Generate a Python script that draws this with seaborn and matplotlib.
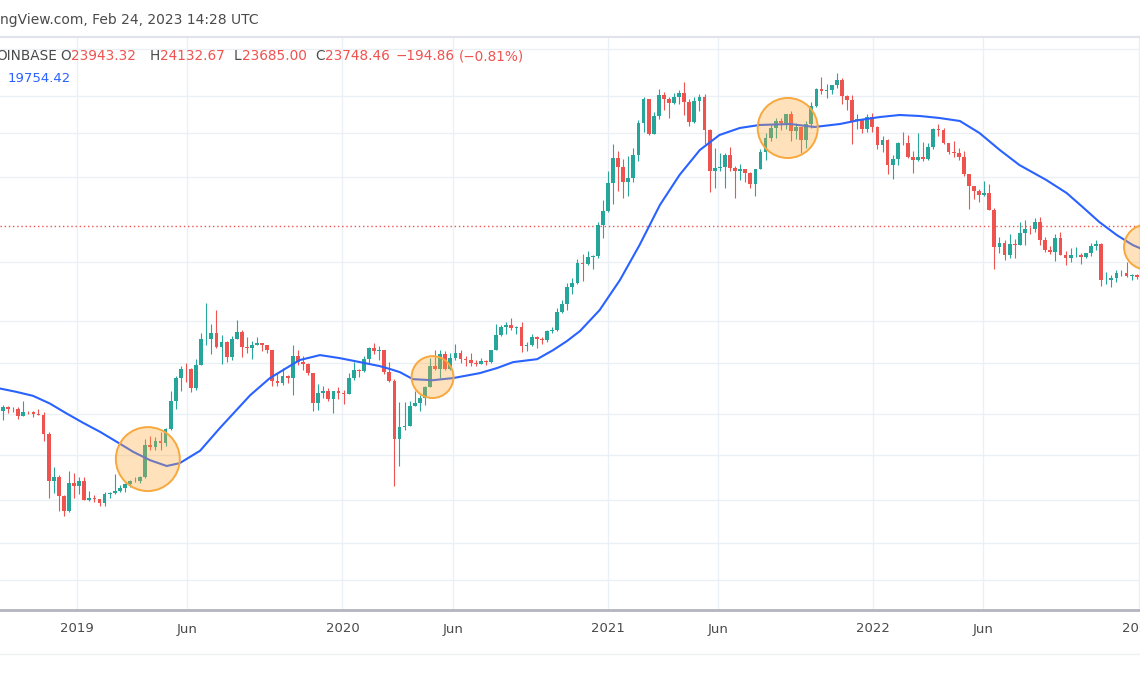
import matplotlib
matplotlib.use("Agg")
import matplotlib.dates as mdates
import matplotlib.pyplot as plt
from matplotlib.lines import Line2D
from matplotlib.ticker import NullLocator
import pandas as pd
import seaborn as sns

GREEN = "#26a69a"
RED = "#ef5350"
BLUE = "#2962ff"
TEXT = "#4a4a4a"
GRID = "#eaf0f6"

# Weekly BTC/USD candles (Coinbase), one entry per week, weeks start on Monday
first_week = "2018-09-17"
first_open = 6500
week_high = [
    6800, 6770, 6680, 6700, 7000, 6530, 6500, 6600, 6480, 5620, 4400, 4170, 3620, 4300, 4240, 4100,
    4100, 3720, 3620, 3530, 3700, 3700, 4190, 3900, 3940, 4030, 4100, 4140, 5350, 5480, 5420, 5640,
    5800, 7500, 8350, 8900, 9100, 8800, 9380, 11250, 13880, 12000, 13150, 11100, 10650, 11000, 12300, 11450,
    10950, 10650, 10900, 10450, 10300, 10000, 8500, 8800, 8400, 10350, 9950, 9550, 9100, 8500, 7850, 7750,
    7650, 7520, 7700, 7550,
    8470, 9200, 8750, 9600, 10200, 10500, 10250, 9990, 9200, 8150, 6950, 6950, 7000, 7470, 7300, 7750,
    9450, 10000, 9950, 9900, 9750, 10400, 9980, 9600, 9800, 9300, 9450, 9300, 10000, 12000, 11900, 12100,
    12480, 11800, 12100, 10550, 11150, 10980, 10950, 11500, 11720, 13350, 14100, 15950, 16500, 18800, 19450, 19900,
    19420, 24300, 28400, 34800,
    42000, 40100, 37900, 38600, 40950, 49700, 58350, 57500, 52600, 61800, 60600, 58400, 60200, 61300, 64900, 57500,
    58500, 59500, 59600, 46600, 40900, 39500, 39500, 41300, 36000, 36600, 35300, 34600, 35400, 40600, 45300, 48200,
    50500, 50500, 52000, 52900, 48800, 47400, 49200, 56500, 62000, 67000, 63700, 63500, 69000, 66400, 59300, 59100,
    51900, 50100, 51900, 52100,
    47600, 44500, 43500, 38900, 42600, 45800, 44800, 40000, 45400, 42600, 42400, 46900, 48200, 47100, 42400, 42900,
    40800, 40000, 34200, 31400, 30700, 32400, 31700, 26900, 21900, 21500, 22500, 21600, 24300, 24700, 23500, 25000,
    25200, 21900, 20600, 22500, 22800, 19900, 20400, 20500, 19700, 19700, 21000, 21500, 21050, 17200, 16800, 17400,
    17400, 18400, 17000, 16950,
    17200,
]
week_low = [
    6120, 6420, 6460, 6180, 6280, 6390, 6260, 6320, 5280, 3550, 3680, 3250, 3130, 3230, 3550, 3650,
    3500, 3470, 3450, 3360, 3350, 3560, 3650, 3700, 3700, 3830, 3960, 3950, 4090, 4950, 4980, 4950,
    5100, 5700, 6600, 7500, 8000, 7450, 7550, 8980, 10350, 9700, 10100, 9070, 9150, 9300, 10800, 9500,
    9800, 9350, 10300, 9880, 9800, 7750, 7750, 7800, 7900, 7300, 9000, 8700, 8400, 6500, 6550, 7150,
    7000, 6430, 7100, 6850,
    7350, 8100, 8250, 8550, 9100, 9700, 9300, 8450, 8000, 3850, 4450, 5700, 5850, 6750, 6500, 6800,
    7700, 8650, 8200, 8700, 8650, 9300, 9100, 8930, 8950, 8950, 9050, 9000, 9100, 9950, 11000, 11150,
    11500, 11150, 9850, 9900, 10250, 10150, 10380, 10530, 11220, 11400, 12900, 13200, 14800, 15800, 16200, 18100,
    17600, 19000, 21800, 26100,
    27700, 30300, 28800, 29300, 32300, 37400, 45600, 44900, 45000, 50000, 53300, 50400, 55600, 55500, 51500, 47500,
    48800, 53000, 42100, 30000, 31000, 34800, 31000, 34800, 28800, 32700, 32200, 31000, 29300, 35200, 37500, 43000,
    43900, 46300, 46800, 42800, 43400, 39600, 40800, 46900, 54400, 59600, 57800, 59400, 62300, 55600, 53300, 42000,
    46800, 45500, 45600, 45700,
    40600, 39700, 34000, 32900, 36300, 41700, 38000, 34300, 37400, 37200, 37600, 40500, 44300, 42000, 39200, 38500,
    37600, 33700, 26700, 28700, 28000, 29300, 26500, 17600, 19700, 18700, 19000, 18900, 20750, 20700, 22400, 22700,
    20800, 19800, 19550, 18550, 19300, 18100, 18500, 19100, 18200, 18900, 19200, 20050, 15600, 15800, 15500, 16000,
    16700, 16600, 16300, 16350,
    16550,
]
week_close = [
    6710, 6625, 6590, 6300, 6480, 6460, 6400, 6350, 5560, 4000, 4100, 3610, 3250, 3950, 3850, 4000,
    3510, 3540, 3530, 3420, 3650, 3670, 3720, 3800, 3920, 4000, 3990, 4100, 5150, 5070, 5300, 5200,
    5750, 7000, 8200, 8750, 8740, 7650, 8980, 10750, 10800, 11250, 10200, 10550, 9500, 10800, 11300, 10200,
    10150, 10350, 10450, 10300, 10000, 8050, 7950, 8300, 8220, 9550, 9200, 9050, 8500, 6900, 7400, 7520,
    7080, 7500, 7390, 7350,
    8180, 8700, 8600, 9350, 10150, 9900, 9950, 8530, 8050, 5360, 5830, 5890, 6770, 6900, 7150, 7700,
    8900, 8730, 9700, 8720, 9450, 9750, 9380, 9300, 9130, 9070, 9250, 9170, 9950, 11100, 11700, 11900,
    11650, 11700, 10250, 10330, 10920, 10780, 10670, 11380, 11500, 13030, 13740, 15480, 15960, 18370, 18180, 19150,
    19260, 23850, 26300, 32000,
    38200, 35800, 32300, 33100, 38850, 48600, 57500, 45200, 51000, 59000, 57500, 55800, 58200, 59800, 56200, 49100,
    56600, 58200, 46400, 34700, 35600, 35800, 39000, 35600, 34700, 35300, 34250, 31800, 35400, 39850, 43800, 47000,
    49300, 48800, 51800, 46000, 47200, 43200, 48200, 54700, 61500, 60900, 61300, 63300, 65500, 58700, 57300, 49400,
    50100, 46700, 50800, 47300,
    41800, 43100, 36300, 37900, 42400, 42200, 38400, 37700, 38400, 37800, 41300, 46800, 46400, 42200, 39700, 39500,
    38500, 34000, 31300, 30300, 29450, 29900, 26600, 20550, 21000, 19300, 20850, 20800, 22600, 23300, 23200, 24300,
    21500, 20000, 19800, 21800, 19400, 18900, 19300, 19400, 19100, 19600, 20600, 20900, 16300, 16300, 16450, 17100,
    17100, 16750, 16850, 16600,
    17150,
]

# moving average (blue line)
ma_dates = [
    "2018-09-16", "2018-10-09", "2018-11-01", "2018-11-24", "2018-12-17", "2019-01-09", "2019-02-01",
    "2019-02-24", "2019-03-19", "2019-04-11", "2019-05-04", "2019-05-22", "2019-06-19", "2019-07-16",
    "2019-08-27", "2019-09-23", "2019-11-03", "2019-12-01", "2019-12-28", "2020-01-25", "2020-02-21",
    "2020-03-07", "2020-03-20", "2020-04-07", "2020-05-04", "2020-06-01", "2020-07-08", "2020-08-01",
    "2020-08-23", "2020-09-25", "2020-10-17", "2020-11-05", "2020-11-23", "2020-12-20", "2021-01-17",
    "2021-02-13", "2021-03-13", "2021-04-09", "2021-05-07", "2021-06-03", "2021-07-01", "2021-07-28",
    "2021-09-08", "2021-10-12", "2021-11-16", "2021-12-13", "2022-01-10", "2022-02-06", "2022-03-06",
    "2022-04-02", "2022-04-30", "2022-05-27", "2022-06-24", "2022-07-21", "2022-08-27", "2022-09-24",
    "2022-10-16", "2022-11-08", "2022-12-02", "2022-12-24", "2023-01-09",
]
ma_values = [
    7630, 7450, 7245, 6870, 6410, 6000, 5640,
    5260, 4900, 4625, 4440, 4530, 4940, 5780,
    7280, 8200, 9300, 9630, 9430, 9170, 8920,
    8730, 8550, 8140, 8080, 8200, 8490, 8800,
    9170, 9360, 9970, 10620, 11390, 13180, 16260,
    20760, 27450, 33850, 40300, 44750, 47000, 47990,
    48330, 47330, 48330, 49690, 50740, 51460, 51100,
    50390, 49350, 45380, 40300, 36290, 32690, 29850,
    27070, 24380, 22260, 20760, 20050,
]

# highlighted areas (orange circles)
circle_dates = ["2019-04-08", "2020-05-04", "2021-09-05", "2023-01-12"]
circle_prices = [4660, 8260, 47000, 20470]
circle_sizes = [2120, 910, 1870, 1050]

last_price = 23748.46

tick_dates = ["2019-01-01", "2019-06-01", "2020-01-01", "2020-06-01", "2021-01-01",
              "2021-06-01", "2022-01-01", "2022-06-01", "2023-01-01"]
tick_labels = ["2019", "Jun", "2020", "Jun", "2021", "Jun", "2022", "Jun", "2023"]

grid_prices = [2000, 2600, 3500, 4800, 6400, 9100, 12200, 18400, 33400, 45400, 58800, 81600]


def main():
    sns.set_style("white")
    plt.rcParams["font.family"] = ["DejaVu Sans"]

    candles = pd.DataFrame({"high": week_high, "low": week_low, "close": week_close})
    candles["open"] = [first_open] + week_close[:-1]
    dates = pd.date_range(first_week, periods=len(candles), freq="7D") + pd.Timedelta(hours=84)
    candles["x"] = mdates.date2num(dates)
    up = candles["close"] >= candles["open"]
    colors = [GREEN if u else RED for u in up]
    body_low = candles[["open", "close"]].min(axis=1)
    body_high = candles[["open", "close"]].max(axis=1)

    fig = plt.figure(figsize=(11.4, 6.94), dpi=100)
    ax = fig.add_axes([0, 1 - 610 / 694, 1, (610 - 37) / 694])
    ax.set_yscale("log")

    ax.axhline(last_price, color=RED, linestyle=(0, (1, 2)), linewidth=1, zorder=1)

    ax.vlines(candles["x"], candles["low"], candles["high"], colors=colors, linewidth=0.8, zorder=2)
    ax.bar(candles["x"], body_high - body_low, bottom=body_low, width=5.2, color=colors,
           linewidth=0, zorder=3)

    ma = pd.DataFrame({"x": mdates.date2num(pd.to_datetime(ma_dates)), "value": ma_values})
    sns.lineplot(data=ma, x="x", y="value", ax=ax, color=BLUE, linewidth=1.5, zorder=4)

    ax.scatter(mdates.date2num(pd.to_datetime(circle_dates)), circle_prices, s=circle_sizes,
               facecolor=(1.0, 0.66, 0.2, 0.33), edgecolor="#f8a83c", linewidth=1.4, zorder=5)

    ax.set_xlim(mdates.date2num(pd.Timestamp("2018-09-16 12:00")),
                mdates.date2num(pd.Timestamp("2023-01-03")))
    ax.set_ylim(1625, 88700)

    ax.set_xticks(mdates.date2num(pd.to_datetime(tick_dates)), tick_labels)
    ax.set_yticks(grid_prices)
    ax.yaxis.set_minor_locator(NullLocator())
    ax.set_yticklabels([])
    ax.tick_params(length=0, labelsize=9.5, labelcolor=TEXT, pad=9)
    ax.grid(True, color=GRID, linewidth=1)
    ax.set_axisbelow(True)
    ax.set_xlabel("")
    ax.set_ylabel("")

    for side in ("left", "right"):
        ax.spines[side].set_visible(False)
    ax.spines["bottom"].set_color("#b2b5be")
    ax.spines["bottom"].set_linewidth(2)
    ax.spines["top"].set_color("#e0e3eb")
    ax.spines["top"].set_linewidth(1.5)

    fig.add_artist(Line2D([0, 1], [1 - 654 / 694] * 2, color="#eef0f3", linewidth=1))

    def px(x, y):
        return x / 1140, 1 - y / 694

    fig.text(*px(0, 20), "ngView.com, Feb 24, 2023 14:28 UTC", ha="left", va="center",
             fontsize=10, color=TEXT)

    # OHLC legend: prefix letter at its spot, the value right after it
    fig.text(*px(57, 56), "OINBASE", ha="right", va="center", fontsize=9.8, color=TEXT)
    legend = [
        (60, "O", "23943.32"), (150, "H", "24132.67"),
        (234, "L", "23685.00"), (315, "C", "23748.46"),
        (396, "", "\u2212194.86"), (459, "", "(\u22120.81%)"),
    ]
    for x, prefix, value in legend:
        t = fig.text(*px(x, 56), prefix, ha="left", va="center", fontsize=9.8, color=TEXT)
        ax.annotate(value, xy=(1, 0.5), xycoords=t, xytext=(0, 0), textcoords="offset points",
                    ha="left", va="center", fontsize=9.8, color=RED, annotation_clip=False)
    fig.text(*px(8, 78), "19754.42", ha="left", va="center", fontsize=9.5, color=BLUE)

    fig.savefig("out.png", dpi=100)


if __name__ == "__main__":
    main()
